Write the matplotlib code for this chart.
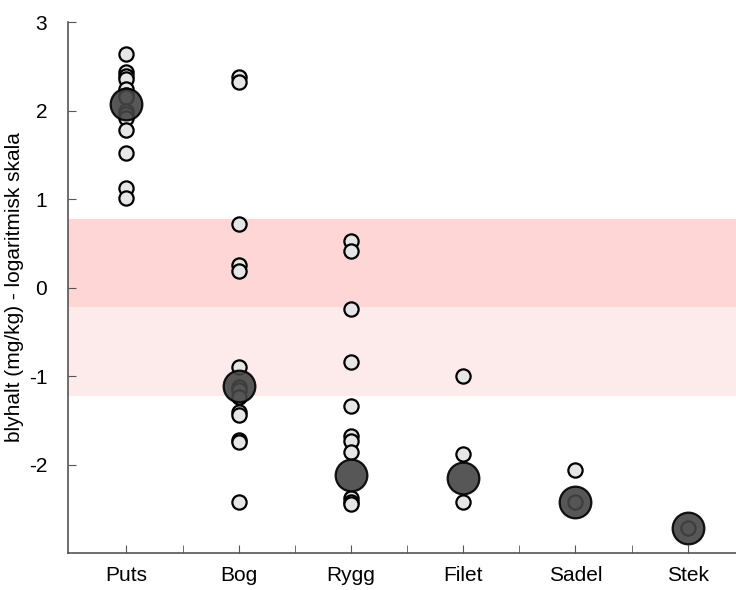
import numpy as np
import matplotlib.pyplot as plt

plt.rcParams['font.family'] = ['Liberation Sans', 'DejaVu Sans']

# kategorier och log10-halter (mg/kg)
kategorier = ['Puts', 'Bog', 'Rygg', 'Filet', 'Sadel', 'Stek']

puts = [2.64, 2.43, 2.39, 2.36, 2.24, 2.18, 2.15, 2.0, 1.96, 1.92, 1.78, 1.52, 1.12, 1.01]
bog = [2.38, 2.32, 0.72, 0.25, 0.19, -0.9, -1.12, -1.16, -1.24, -1.41, -1.44,
       -1.72, -1.75, -2.42]
rygg = [0.52, 0.41, -0.24, -0.84, -1.34, -1.68, -1.73, -1.86, -2.38, -2.42, -2.45]
filet = [-1.0, -1.88, -2.42]
sadel = [-2.06, -2.42]
stek = [-2.72]
prover = [puts, bog, rygg, filet, sadel, stek]

medel = [2.07, -1.11, -2.12, -2.15, -2.42, -2.72]

# gränsvärden (log10)
band_hog = [np.log10(0.6), np.log10(6)]
band_lag = [np.log10(0.06), np.log10(0.6)]

fig = plt.figure(figsize=(7.36, 5.90), dpi=100)
ax = fig.add_axes([0.0924, 0.0627, 0.9076, 0.9])

ax.axhspan(band_hog[0], band_hog[1], color='#ffd6d6', lw=0, zorder=0)
ax.axhspan(band_lag[0], band_lag[1], color='#fdeaea', lw=0, zorder=0)

x = np.arange(1, len(kategorier) + 1)
for i in range(len(prover)):
    ax.scatter(np.full(len(prover[i]), x[i]), prover[i], s=105, facecolor='#e6e6e6',
               edgecolor='black', linewidth=1.6, zorder=2)

ax.scatter(x, medel, s=520, facecolor='#454545', edgecolor='black', alpha=0.9,
           linewidth=1.6, zorder=3)

ax.set_xlim(0.48, 6.43)
ax.set_ylim(-3, 3)
ax.set_xticks(x)
ax.set_xticklabels(kategorier)
ax.set_xticks(x[:-1] + 0.5, minor=True)
ax.set_yticks([-2, -1, 0, 1, 2, 3])
ax.set_yticklabels(['-2', '-1', '0', '1', '2', '3'])
ax.set_ylabel('blyhalt (mg/kg) - logaritmisk skala', fontsize=15)
ax.yaxis.set_label_coords(-0.066, 0.5)

for s in ['top', 'right']:
    ax.spines[s].set_visible(False)
for s in ['left', 'bottom']:
    ax.spines[s].set_color('#555555')
    ax.spines[s].set_linewidth(1.2)
ax.tick_params(which='both', direction='in', length=6, color='#555555', labelsize=15)
ax.tick_params(axis='y', pad=15)
ax.tick_params(axis='x', pad=9)

fig.savefig('out.png', dpi=100)
